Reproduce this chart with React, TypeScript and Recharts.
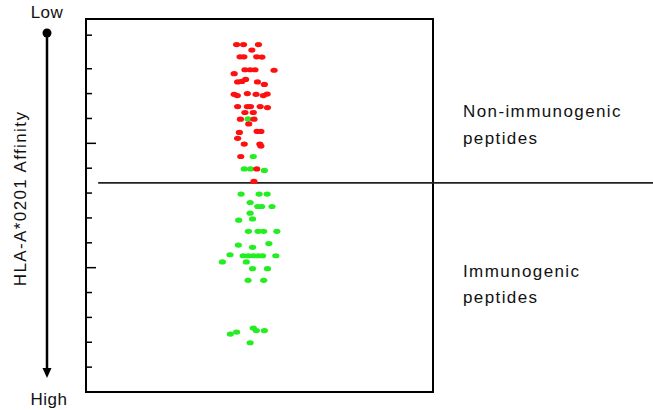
import { ScatterChart, Scatter, XAxis, YAxis, ReferenceLine, ReferenceArea, Customized } from 'recharts';

// y axis: relative HLA-A*0201 affinity, 0 = low (top), 15 = high (bottom)
const AFFINITY_TICKS = [0.65, 2, 3, 4, 5, 6, 7, 8, 9, 10, 11, 12, 13, 14];
const MAJOR_TICKS = [5, 10];
const THRESHOLD = 6.59;

const NON_IMMUNO_X = [
  43.4, 45.4, 49.7, 47.8, 44.4, 45.5, 49.2, 50.7, 45.8, 47.3, 48.7, 54.2, 42.7, 43.7, 44.9,
  46.0, 49.4, 51.4, 42.7, 43.6, 46.5, 49.0, 51.1, 52.2, 43.7, 46.5, 47.4, 50.2, 52.3, 45.8,
  48.2, 44.5, 48.4, 46.9, 44.2, 49.3, 50.4, 43.7, 45.6, 50.1, 50.4, 44.6, 49.2, 48.4,
];
const NON_IMMUNO_Y = [
  1.03, 1.03, 1.03, 1.25, 1.52, 1.52, 1.52, 1.53, 2.04, 2.04, 2.04, 2.06, 2.2, 2.53, 2.51,
  2.43, 2.53, 2.63, 3.03, 3.08, 3.0, 3.03, 3.08, 3.02, 3.52, 3.52, 3.52, 3.52, 3.56, 3.76,
  3.76, 4.03, 4.03, 4.22, 4.56, 4.52, 4.52, 4.8, 5.03, 5.03, 5.11, 5.53, 6.03, 6.53,
];

const IMMUNO_X = [
  46.7, 48.2, 45.6, 47.4, 51.4, 44.7, 49.9, 52.2, 47.3, 49.5, 50.6, 53.6, 47.3, 44.0, 48.0,
  46.8, 49.6, 51.2, 55.0, 43.9, 48.0, 52.7, 41.5, 45.3, 46.8, 48.2, 49.7, 50.9, 54.7, 39.3,
  46.2, 48.0, 52.3, 46.7, 51.2, 41.6, 43.4, 48.2, 49.1, 51.4, 47.3,
];
const IMMUNO_Y = [
  4.02, 5.53, 6.03, 6.03, 6.09, 7.04, 7.04, 7.04, 7.38, 7.54, 7.54, 7.54, 7.81, 8.09, 8.04,
  8.54, 8.54, 8.54, 8.54, 9.09, 9.18, 9.03, 9.48, 9.52, 9.52, 9.52, 9.52, 9.52, 9.52, 9.77,
  9.77, 10.04, 10.04, 10.51, 10.51, 12.67, 12.59, 12.43, 12.53, 12.53, 13.02,
];

const nonImmunogenic = NON_IMMUNO_X.map((x, i) => ({ x, y: NON_IMMUNO_Y[i] }));
const immunogenic = IMMUNO_X.map((x, i) => ({ x, y: IMMUNO_Y[i] }));

const FONT = '"Liberation Sans", Arial, sans-serif';
const RED = '#ff1010';
const GREEN = '#22ee22';

const Dot = (color: string) => (p: any) => (
  <ellipse cx={p.cx} cy={p.cy} rx={3.6} ry={2.6} fill={color} />
);

function AffinityTick({ x, y, payload }: any) {
  const len = MAJOR_TICKS.includes(payload.value) ? 10 : 6;
  return <line x1={x} x2={x + len} y1={y} y2={y} stroke="#000" strokeWidth={1.5} />;
}

function AffinityLabel({ viewBox }: any) {
  const { x, y, height } = viewBox;
  const ax = x + 47;
  const top = y + 14;
  const bottom = y + height - 14;
  const mid = y + height / 2 - 7;
  return (
    <g fontFamily={FONT} fontSize={17} fill="#111">
      <text x={ax} y={y - 1} textAnchor="middle" letterSpacing={0.5}>Low</text>
      <circle cx={ax} cy={top} r={4.5} fill="#000" />
      <line x1={ax} x2={ax} y1={top} y2={bottom - 8} stroke="#000" strokeWidth={2.5} />
      <path d={`M${ax - 4.5},${bottom - 10} L${ax + 4.5},${bottom - 10} L${ax},${bottom} Z`} fill="#000" />
      <text x={ax + 2} y={y + height + 13} textAnchor="middle" letterSpacing={0.5}>High</text>
      <text
        x={26}
        y={mid}
        textAnchor="middle"
        letterSpacing={1.4}
        transform={`rotate(-90, 26, ${mid})`}
      >
        HLA-A*0201 Affinity
      </text>
    </g>
  );
}

function GroupLabels() {
  return (
    <g fontFamily={FONT} fontSize={17} fill="#111" letterSpacing={1.4}>
      <text x={463} y={117}>Non-immunogenic</text>
      <text x={463} y={144}>peptides</text>
      <text x={463} y={277}>Immunogenic</text>
      <text x={463} y={303}>peptides</text>
    </g>
  );
}

export default function App() {
  return (
    <div style={{ position: 'absolute', left: 0, top: 0, background: '#fff' }}>
      <ScatterChart width={653} height={410} margin={{ top: 19, right: 220, bottom: 18, left: 0 }}>
        <XAxis type="number" dataKey="x" domain={[0, 100]} hide />
        <YAxis
          type="number"
          dataKey="y"
          domain={[0, 15]}
          reversed
          width={86}
          ticks={AFFINITY_TICKS}
          interval={0}
          tickSize={0}
          tickMargin={0}
          tickLine={false}
          axisLine={false}
          tick={<AffinityTick />}
          label={(props: any) => <AffinityLabel {...props} />}
        />
        <ReferenceArea x1={0} x2={100} y1={0} y2={15} fill="none" fillOpacity={0} stroke="#000" strokeWidth={2} />
        <ReferenceLine
          segment={[{ x: 3.5, y: THRESHOLD }, { x: 163.4, y: THRESHOLD }]}
          ifOverflow="visible"
          stroke="#222"
          strokeWidth={1.6}
        />
        <Scatter data={immunogenic} shape={Dot(GREEN)} isAnimationActive={false} />
        <Scatter data={nonImmunogenic} shape={Dot(RED)} isAnimationActive={false} />
        <Customized component={GroupLabels} />
      </ScatterChart>
    </div>
  );
}
